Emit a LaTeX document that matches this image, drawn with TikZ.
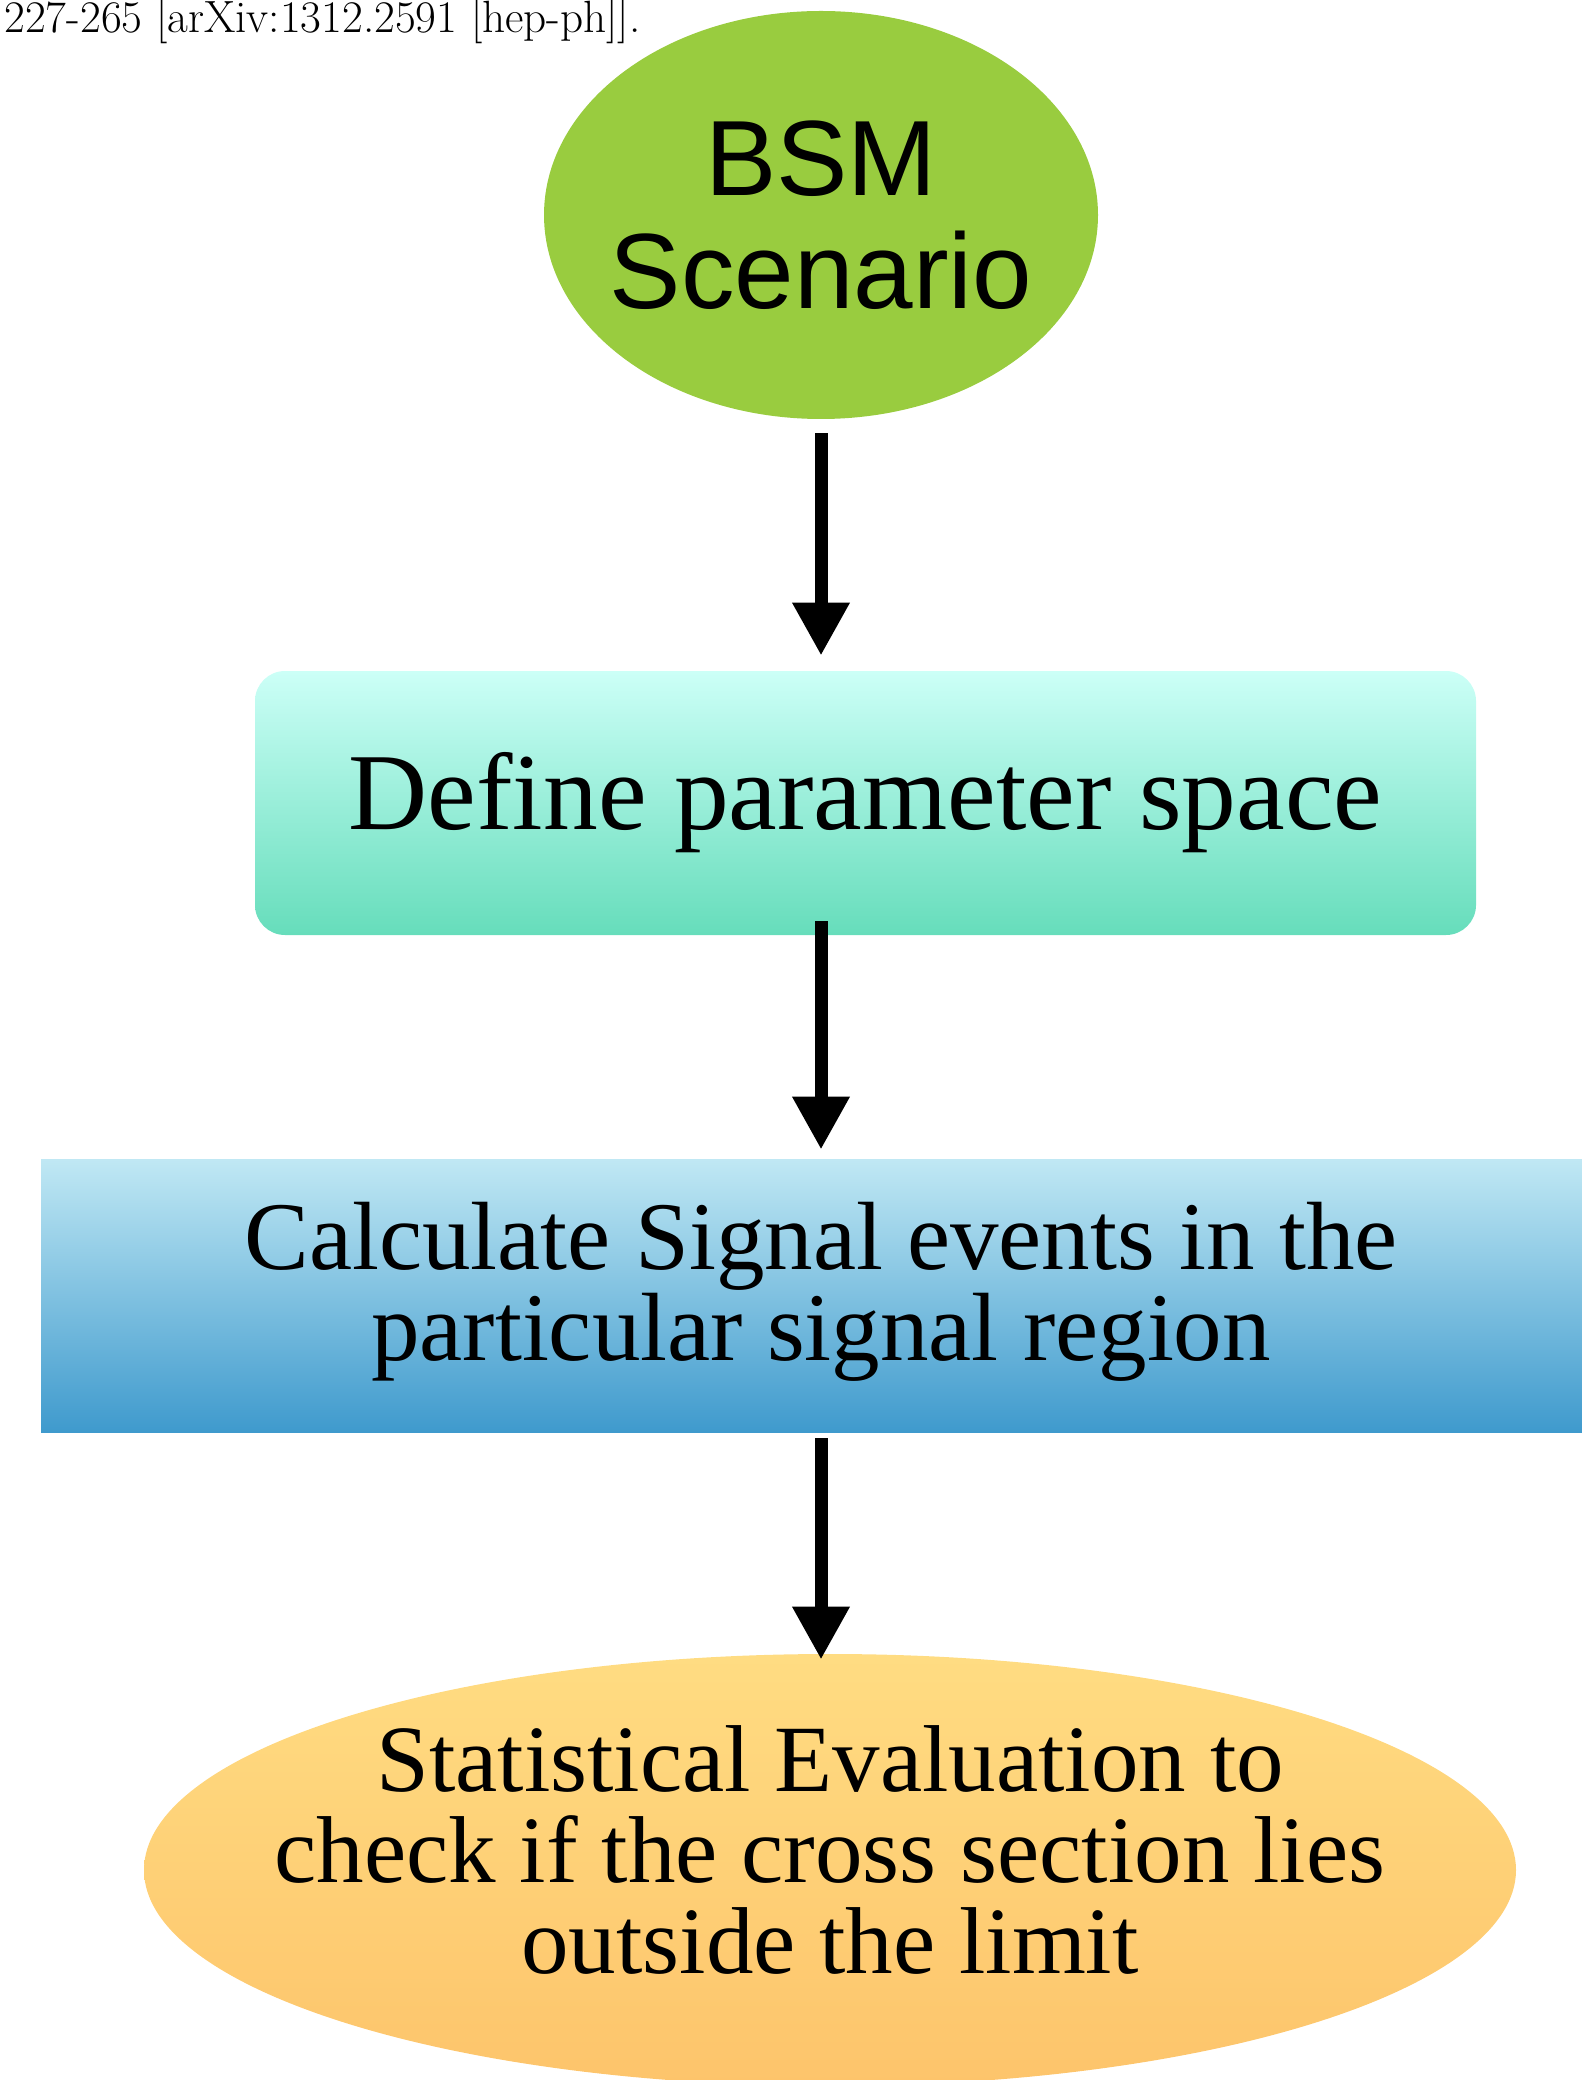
\documentclass[tikz,border=0pt]{standalone}
\usepackage{fontspec}
\newfontfamily\bsmfont{Liberation Sans}
\newfontfamily\boxfont{Liberation Serif}
\usetikzlibrary{arrows.meta,shapes.geometric}
\definecolor{bsmgreen}{HTML}{99CC3F}
\definecolor{definetop}{HTML}{CCFFF7}
\definecolor{definebot}{HTML}{66DDBB}
\definecolor{calctop}{HTML}{C0E8F4}
\definecolor{calcbot}{HTML}{3F9ACD}
\definecolor{stattop}{HTML}{FFDC82}
\definecolor{statbot}{HTML}{FDC46B}
\begin{document}
\begin{tikzpicture}[x=0.5pt,y=-0.5pt,
    flow/.style={line width=6.5pt,-{Triangle[length=26.5pt,width=27pt]}},
    bigtext/.style={font=\boxfont\fontsize{47.5pt}{45.5pt}\selectfont,align=center}]
  \useasboundingbox (0,0) rectangle (1582,2080);
  \node[anchor=base west,inner sep=0pt,font=\fontsize{22.6pt}{26pt}\selectfont]
    (ref) at (4,33) {227-265 [arXiv:1312.2591 [hep-ph]].};
  \node[ellipse,fill=bsmgreen,minimum width=277pt,minimum height=204pt,
    inner xsep=-40pt,inner ysep=0pt,align=center,
    font=\bsmfont\fontsize{53.5pt}{56.5pt}\selectfont]
    (bsm) at (821,215) {BSM\\Scenario};
  \node[rounded corners=15pt,top color=definetop,bottom color=definebot,
    minimum width=610.5pt,minimum height=132pt,
    font=\boxfont\fontsize{54.75pt}{60pt}\selectfont]
    (define) at (865.5,803) {Define parameter space};
  \node[bigtext,font=\boxfont\fontsize{48.5pt}{45.5pt}\selectfont,text depth=14pt,
    top color=calctop,bottom color=calcbot,
    minimum width=780pt,minimum height=136.5pt]
    (calc) at (821,1295.5) {Calculate Signal events in the\\particular signal region};
  \node[bigtext,ellipse,text depth=20pt,top color=stattop,bottom color=statbot,
    minimum width=686pt,minimum height=216pt,inner xsep=-100pt,inner ysep=0pt]
    (stat) at (830,1870) {Statistical Evaluation to\\check if the cross section lies\\outside the limit};
  \begin{scope}[flow]
    \draw[shorten <=7pt,shorten >=7.5pt] (bsm.south) -- (bsm.south |- define.north);
    \draw[shorten <=-7pt,shorten >=4.5pt] (bsm.south |- define.south) -- (calc.north);
    \draw[shorten <=3pt,shorten >=-3pt] (calc.south) -- (calc.south |- stat.north);
  \end{scope}
\end{tikzpicture}
\end{document}
